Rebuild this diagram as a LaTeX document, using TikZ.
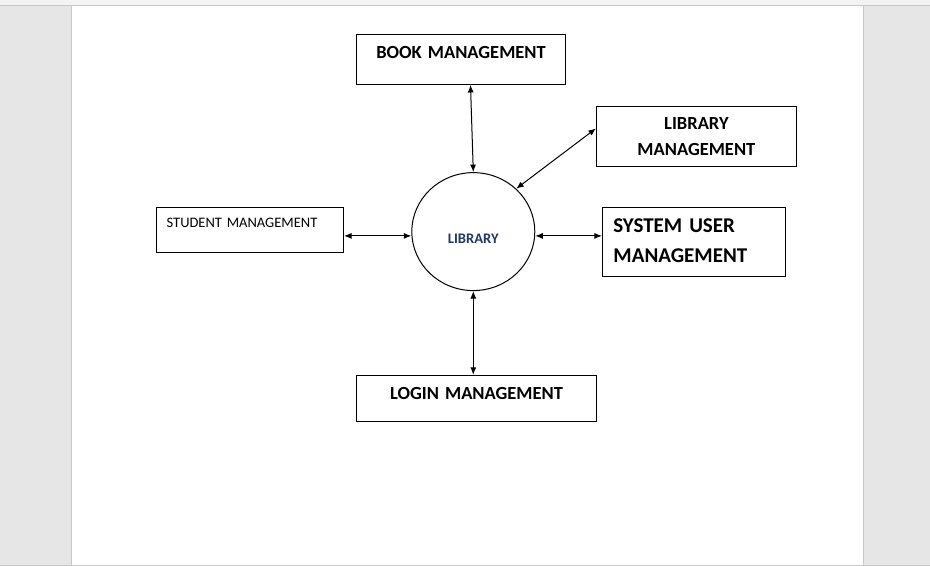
\documentclass[tikz,border=0pt]{standalone}
\usepackage{fontspec}
\setmainfont{Carlito}
\usepackage{tikz}
\usetikzlibrary{arrows.meta, shapes.geometric}
\definecolor{pagegray}{HTML}{E6E6E6}
\definecolor{ribbongray}{HTML}{F3F3F3}
\definecolor{edgegray}{HTML}{C8C8C8}
\definecolor{libblue}{HTML}{1F3864}

\tikzset{
  modbox/.style={draw, line width=1pt, inner sep=0pt, anchor=north west},
  dflow/.style={line width=1pt, {Latex[length=7.5pt,width=6pt]}-{Latex[length=7.5pt,width=6pt]}}
}

\begin{document}
\begin{tikzpicture}[x=1pt,y=-1pt]
          % window around the page
          \fill[pagegray] (0,0) rectangle (930,566);
          \fill[white] (71,5) rectangle (863,566);
          \fill[ribbongray] (0,0) rectangle (930,5);
          \draw[edgegray] (0,5.5) -- (930,5.5);
          \draw[edgegray] (71.5,5.5) -- (71.5,566) (863.5,5.5) -- (863.5,566);
          \draw[edgegray] (0,565.5) -- (930,565.5);
          \useasboundingbox (0,0) rectangle (930,566);

          \node[ellipse, draw, line width=1pt, minimum width=123pt, minimum height=118pt,
                inner sep=0pt, text height=23pt, text depth=0pt, text=libblue,
                font=\fontsize{14.6}{17}\selectfont\bfseries](lib) at (473.3,231.7) {LIBRARY};

          \node[modbox, text width=209pt, align=center, text height=24pt, text depth=26pt,
                font=\fontsize{18.5}{26}\selectfont\bfseries](book) at (356,34) {BOOK MANAGEMENT};
          \node[modbox, text width=200pt, align=center, text height=23pt, text depth=37pt,
                font=\fontsize{18.5}{26}\selectfont\bfseries](libm) at (596,106) {LIBRARY\\MANAGEMENT};
          \node[modbox, inner xsep=11pt, text width=161pt, align=left, text height=25pt, text depth=44pt,
                font=\fontsize{21}{30}\selectfont\bfseries](sys) at (602,207) {SYSTEM USER\\MANAGEMENT};
          \node[modbox, inner xsep=10pt, text width=167pt, align=left, text height=20pt, text depth=25pt,
                font=\fontsize{14.5}{17}\selectfont](stud) at (156,207) {STUDENT MANAGEMENT};
          \node[modbox, text width=240pt, align=center, text height=24pt, text depth=22pt,
                font=\fontsize{18.5}{26}\selectfont\bfseries](login) at (356,375) {LOGIN MANAGEMENT};

          \draw[dflow] ([xshift=9.5pt]book.south) -- (lib.north);
          \draw[dflow] ([yshift=8pt]libm.west) -- (lib.45);
          \draw[dflow] (lib.east |- 0,236) -- (sys.west |- 0,236);
          \draw[dflow] (stud.east |- 0,236) -- (lib.west |- 0,236);
          \draw[dflow] (lib.south) -- (lib.south |- login.north);
        \end{tikzpicture}
\end{document}
